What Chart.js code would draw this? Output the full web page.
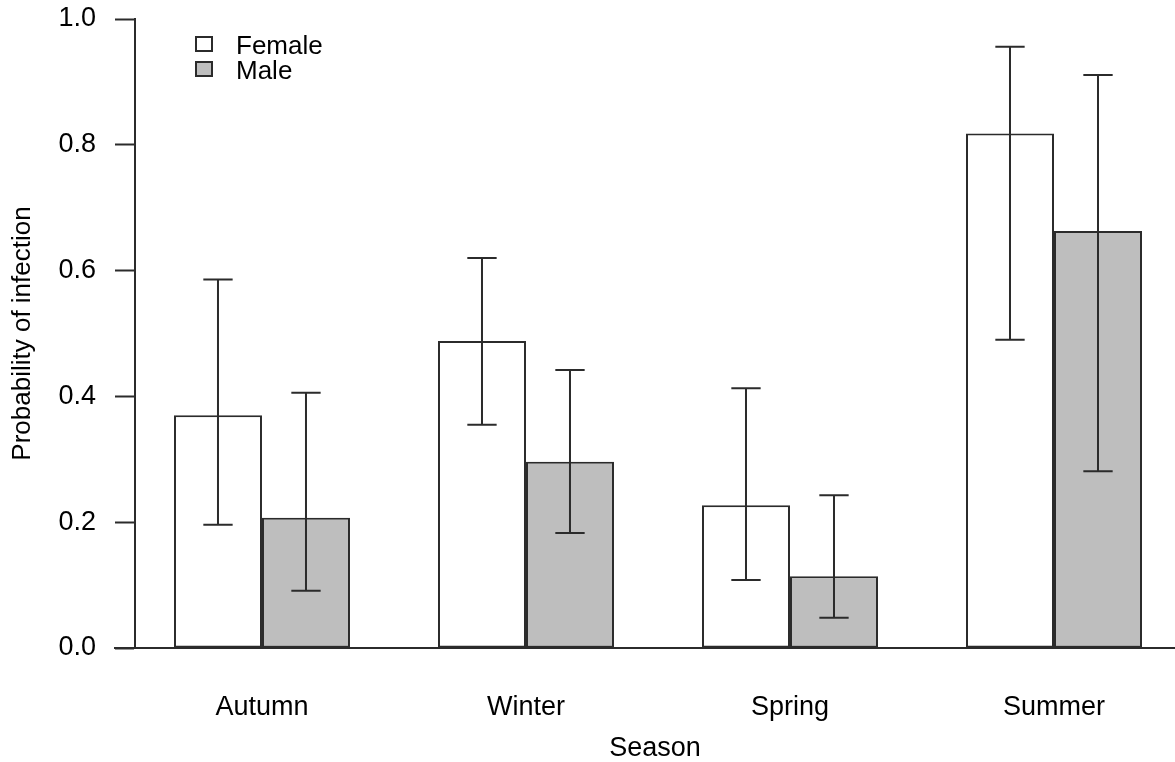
<!DOCTYPE html>
<html>
<head>
<meta charset="utf-8">
<script src="https://cdn.jsdelivr.net/npm/chart.js@4"></script>
<style>
  html, body { margin: 0; padding: 0; background: #fff; overflow: hidden; }
</style>
</head>
<body>
<canvas id="myChart" width="1175" height="762"></canvas>
<script>
const seasons = ['Autumn', 'Winter', 'Spring', 'Summer'];
const female = [0.370, 0.488, 0.227, 0.818];
const femaleLow = [0.196, 0.355, 0.108, 0.490];
const femaleHigh = [0.586, 0.620, 0.413, 0.956];
const male = [0.207, 0.296, 0.114, 0.663];
const maleLow = [0.091, 0.183, 0.048, 0.281];
const maleHigh = [0.406, 0.442, 0.243, 0.911];
const yTicks = [0, 0.2, 0.4, 0.6, 0.8, 1.0];

const font = '"Liberation Sans", Arial, sans-serif';
const ink = '#2b2b2b';

// group centre on the x axis: bars are 1 unit wide, 1 unit gap between groups
const groupX = i => 3 * i + 2;

const errors = [[femaleLow, femaleHigh], [maleLow, maleHigh]];

const errorBars = {
    id: 'errorBars',
    afterDatasetsDraw(chart) {
        const ctx = chart.ctx;
        const y = chart.scales.y;
        ctx.save();
        ctx.strokeStyle = ink;
        ctx.lineWidth = 2;
        chart.data.datasets.forEach((ds, d) => {
            chart.getDatasetMeta(d).data.forEach((bar, i) => {
                const lo = y.getPixelForValue(errors[d][0][i]);
                const hi = y.getPixelForValue(errors[d][1][i]);
                const half = bar.width / 6;
                ctx.beginPath();
                ctx.moveTo(bar.x, lo); ctx.lineTo(bar.x, hi);
                ctx.moveTo(bar.x - half, lo); ctx.lineTo(bar.x + half, lo);
                ctx.moveTo(bar.x - half, hi); ctx.lineTo(bar.x + half, hi);
                ctx.stroke();
            });
        });
        ctx.restore();
    }
};

const extras = {
    id: 'extras',
    afterDraw(chart) {
        const ctx = chart.ctx;
        const area = chart.chartArea;
        const zero = chart.scales.y.getPixelForValue(0);
        ctx.save();
        // baseline
        ctx.strokeStyle = ink;
        ctx.lineWidth = 2;
        ctx.beginPath();
        ctx.moveTo(area.left - 21, zero);
        ctx.lineTo(chart.width, zero);
        ctx.stroke();
        // legend
        ctx.font = '26px ' + font;
        ctx.textBaseline = 'middle';
        ctx.textAlign = 'left';
        chart.data.datasets.forEach((ds, d) => {
            const top = area.top + 18 + d * 25;
            ctx.fillStyle = ds.backgroundColor;
            ctx.fillRect(area.left + 61, top, 16, 14);
            ctx.lineWidth = 2;
            ctx.strokeStyle = ink;
            ctx.strokeRect(area.left + 61, top, 16, 14);
            ctx.fillStyle = '#000';
            ctx.fillText(ds.label, area.left + 101, top + 10);
        });
        ctx.restore();
    }
};

new Chart(document.getElementById('myChart'), {
    type: 'bar',
    data: {
        datasets: [{
            label: 'Female',
            data: female.map((v, i) => ({x: groupX(i), y: v})),
            backgroundColor: '#ffffff',
            borderColor: ink,
            borderWidth: 2,
            borderSkipped: false
        }, {
            label: 'Male',
            data: male.map((v, i) => ({x: groupX(i), y: v})),
            backgroundColor: '#bebebe',
            borderColor: ink,
            borderWidth: 2,
            borderSkipped: false
        }]
    },
    options: {
        responsive: false,
        animation: false,
        categoryPercentage: 2 / 3,
        barPercentage: 1,
        layout: { padding: { top: 19, right: 0, left: 0, bottom: 0 } },
        plugins: {
            legend: { display: false },
            tooltip: { enabled: false }
        },
        scales: {
            x: {
                type: 'linear',
                offset: false,
                min: 0.557,
                max: 12.375,
                afterBuildTicks: s => { s.ticks = seasons.map((n, i) => ({value: groupX(i)})); },
                afterFit: s => { s.height = 114; s.paddingLeft = 0; s.paddingRight = 0; },
                grid: { display: false },
                border: { display: false },
                ticks: {
                    padding: 35,
                    color: '#000',
                    font: { family: font, size: 27 },
                    callback: (v, i) => seasons[i]
                },
                title: {
                    display: true,
                    text: 'Season',
                    color: '#000',
                    font: { family: font, size: 27, lineHeight: 0.8 },
                    padding: { top: 0, bottom: 3 }
                }
            },
            y: {
                min: 0,
                max: 1,
                afterBuildTicks: s => { s.ticks = yTicks.map(v => ({value: v})); },
                afterFit: s => { s.width = 135; s.paddingTop = 0; s.paddingBottom = 0; },
                grid: {
                    drawOnChartArea: false,
                    drawTicks: true,
                    tickLength: 20,
                    tickWidth: 2,
                    tickColor: ink
                },
                border: { display: true, color: ink, width: 2 },
                ticks: {
                    padding: 19,
                    color: '#000',
                    font: { family: font, size: 27 },
                    callback: v => v.toFixed(1)
                },
                title: {
                    display: true,
                    text: 'Probability of infection',
                    color: '#000',
                    font: { family: font, size: 26, lineHeight: 1 },
                    padding: { top: 10, bottom: 0 }
                }
            }
        }
    },
    plugins: [errorBars, extras]
});
</script>
</body>
</html>
